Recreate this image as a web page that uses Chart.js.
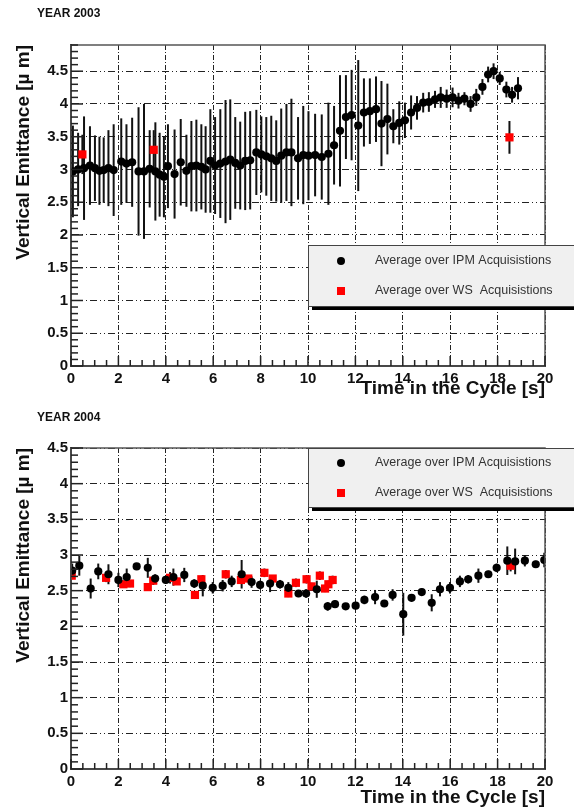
<!DOCTYPE html>
<html>
<head>
<meta charset="utf-8">
<script src="https://cdn.jsdelivr.net/npm/chart.js@4.4.0/dist/chart.umd.min.js"></script>
<style>
  body { margin: 0; background: #fff; }
  #wrap { position: relative; width: 574px; height: 809px; }
  canvas { position: absolute; left: 0; }
  #c2003 { top: 0; }
  #c2004 { top: 400px; }
</style>
</head>
<body>
<div id="wrap">
  <canvas id="c2003" width="574" height="400" style="width:574px;height:400px"></canvas>
  <canvas id="c2004" width="574" height="409" style="width:574px;height:409px"></canvas>
</div>
<script>
// ---- data ----
const ipmLabel = "Average over IPM Acquisistions";
const wsLabel = "Average over WS  Acquisistions";
const xLabel = "Time in the Cycle [s]";
const yLabel = "Vertical Emittance [\u00b5 m]";

// 2003 IPM
const ipm03Time = [0.08,0.30,0.55,0.80,1.01,1.20,1.38,1.58,1.80,2.12,2.34,2.58,2.85,3.08,3.32,3.56,3.74,3.92,4.09,4.37,
  4.63,4.87,5.08,5.29,5.50,5.68,5.88,6.08,6.30,6.52,6.72,6.93,7.14,7.35,7.56,7.82,8.03,8.24,8.45,8.66,
  8.87,9.09,9.30,9.58,9.80,10.02,10.30,10.58,10.86,11.10,11.35,11.60,11.84,12.12,12.36,12.61,12.87,13.10,13.35,13.60,
  13.85,14.09,14.35,14.60,14.86,15.10,15.36,15.60,15.85,16.10,16.35,16.60,16.86,17.10,17.36,17.60,17.83,18.09,18.37,18.61,18.86];
const ipm03Value = [2.97,3.00,3.02,3.06,3.02,2.98,2.99,3.02,2.99,3.12,3.09,3.11,2.97,2.97,3.01,2.97,2.92,2.89,3.05,2.93,
  3.11,2.98,3.05,3.06,3.04,3.00,3.13,3.06,3.09,3.12,3.15,3.10,3.06,3.13,3.14,3.26,3.23,3.20,3.17,3.13,
  3.21,3.26,3.26,3.17,3.22,3.21,3.22,3.19,3.24,3.37,3.59,3.80,3.83,3.67,3.87,3.89,3.92,3.70,3.77,3.66,
  3.71,3.75,3.87,3.94,4.02,4.03,4.07,4.10,4.08,4.10,4.05,4.08,4.00,4.10,4.26,4.45,4.50,4.39,4.22,4.14,4.24];
const ipm03Err = [0.70,0.56,0.79,0.60,0.50,0.52,0.50,0.58,0.70,0.66,0.60,0.68,0.98,1.03,0.59,0.75,0.64,0.62,0.64,0.68,
  0.66,0.55,0.69,0.70,0.65,0.66,0.79,0.74,0.83,0.94,0.92,0.70,0.67,0.75,0.75,0.65,0.58,0.60,0.65,0.62,
  0.72,0.74,0.82,0.63,0.75,0.68,0.63,0.65,0.78,0.60,0.85,0.64,0.69,1.00,0.52,0.50,0.50,0.65,0.54,0.26,
  0.33,0.27,0.26,0.18,0.15,0.15,0.13,0.16,0.14,0.15,0.12,0.10,0.12,0.13,0.12,0.12,0.12,0.10,0.12,0.12,0.17];

// 2003 WS
const ws03Time = [0.48, 3.49, 18.50];
const ws03Value = [3.23, 3.30, 3.49];
const ws03Err = [0.30, 0.30, 0.25];

// 2004 IPM
const ipm04Time = [0.05,0.35,0.83,1.15,1.58,2.00,2.35,2.77,3.24,3.55,4.00,4.32,4.78,5.20,5.56,5.98,6.40,6.78,7.20,7.62,
  7.98,8.40,8.82,9.17,9.60,9.92,10.37,10.83,11.14,11.59,12.01,12.38,12.83,13.22,13.57,14.02,14.37,14.80,15.22,15.57,
  15.99,16.41,16.76,17.19,17.61,17.96,18.41,18.74,19.15,19.61,19.97];
const ipm04Value = [2.78,2.85,2.53,2.77,2.73,2.65,2.69,2.84,2.82,2.67,2.65,2.69,2.72,2.60,2.57,2.54,2.57,2.63,2.73,2.62,
  2.58,2.60,2.59,2.54,2.46,2.46,2.52,2.28,2.31,2.28,2.29,2.37,2.41,2.32,2.44,2.17,2.40,2.48,2.33,2.52,
  2.54,2.63,2.66,2.71,2.73,2.82,2.92,2.91,2.92,2.87,2.93];
const ipm04Err = [0.10,0.14,0.14,0.11,0.14,0.10,0.12,0.04,0.14,0.06,0.05,0.12,0.10,0.06,0.15,0.08,0.08,0.08,0.20,0.08,
  0.06,0.12,0.06,0.08,0.05,0.06,0.12,0.06,0.05,0.04,0.05,0.06,0.10,0.05,0.08,0.30,0.05,0.05,0.12,0.10,
  0.08,0.08,0.06,0.10,0.05,0.06,0.20,0.18,0.08,0.05,0.10];

// 2004 WS
const ws04Time = [0.03,1.48,2.21,2.49,3.24,3.47,4.18,4.46,5.23,5.50,6.53,7.17,7.48,8.16,8.51,9.17,9.49,9.94,10.15,10.50,10.72,10.86,11.04,18.55];
const ws04Value = [2.71,2.68,2.59,2.60,2.55,2.64,2.68,2.63,2.44,2.66,2.73,2.65,2.67,2.75,2.67,2.46,2.61,2.66,2.56,2.71,2.53,2.59,2.65,2.85];
const ws04Err = [0.05,0.06,0.05,0.05,0.05,0.06,0.08,0.05,0.04,0.05,0.06,0.05,0.05,0.06,0.05,0.05,0.06,0.06,0.05,0.06,0.05,0.05,0.06,0.08];

const FONT = "'Liberation Sans', Arial, Helvetica, sans-serif";

function points(t, v, e) {
  return t.map((tt, i) => ({ x: tt, y: v[i], err: e[i] }));
}

// error bars, inside ticks, frame, year tag and legend box (ROOT look)
const rootPlugin = {
  id: "rootFrame",
  beforeDatasetsDraw(chart) {
    const { ctx, chartArea: a, scales: { x, y } } = chart;
    ctx.save();
    ctx.beginPath();
    ctx.rect(a.left, a.top, a.right - a.left, a.bottom - a.top);
    ctx.clip();
    ctx.strokeStyle = "#111";
    ctx.lineWidth = 2;
    chart.data.datasets.forEach((ds) => {
      ds.data.forEach((p) => {
        const px = x.getPixelForValue(p.x);
        ctx.beginPath();
        ctx.moveTo(px, y.getPixelForValue(p.y - p.err));
        ctx.lineTo(px, y.getPixelForValue(p.y + p.err));
        ctx.stroke();
      });
    });
    ctx.restore();
  },
  afterDraw(chart, args, opts) {
    const { ctx, chartArea: a, scales: { x, y } } = chart;
    ctx.save();
    // frame top/right
    ctx.strokeStyle = "#555";
    ctx.lineWidth = 1.5;
    ctx.strokeRect(a.left, a.top, a.right - a.left, a.bottom - a.top);

    // ticks pointing inside
    ctx.strokeStyle = "#222";
    ctx.lineWidth = 1.5;
    for (let i = 0; i <= 40; i++) {
      const px = x.getPixelForValue(i * 0.5);
      const len = i % 4 === 0 ? 10 : 6;
      ctx.beginPath();
      ctx.moveTo(px, a.bottom);
      ctx.lineTo(px, a.bottom - len);
      ctx.stroke();
    }
    for (let i = 0; i <= y.max * 10 + 0.001; i++) {
      const py = y.getPixelForValue(i / 10);
      const len = i % 5 === 0 ? 12 : 7;
      ctx.beginPath();
      ctx.moveTo(a.left, py);
      ctx.lineTo(a.left + len, py);
      ctx.stroke();
    }

    // year tag
    ctx.fillStyle = "#111";
    ctx.font = "bold 12px " + FONT;
    ctx.textBaseline = "middle";
    ctx.textAlign = "left";
    ctx.fillText(opts.year, 37, opts.yearY);

    // legend box with shadow
    const L = opts.legend;
    ctx.fillStyle = "#000";
    ctx.fillRect(L.x + 4, L.y + L.h, 600, 4);
    ctx.fillStyle = "#f0f0f0";
    ctx.fillRect(L.x, L.y, 600, L.h);
    ctx.strokeStyle = "#444";
    ctx.lineWidth = 1;
    ctx.strokeRect(L.x + 0.5, L.y + 0.5, 600, L.h);
    ctx.font = "12.5px " + FONT;
    chart.data.datasets.forEach((ds, i) => {
      const cy = L.y + L.first + i * 30;
      const cx = L.x + 33;
      ctx.fillStyle = ds.backgroundColor;
      if (ds.pointStyle === "rect") {
        ctx.fillRect(cx - 4, cy - 4, 8, 8);
      } else {
        ctx.beginPath();
        ctx.arc(cx, cy, 4, 0, Math.PI * 2);
        ctx.fill();
      }
      ctx.fillStyle = "#333";
      ctx.fillText(ds.label, L.x + 67, cy);
    });
    ctx.restore();
  }
};

function makeChart(id, ipm, ws, yMax, top, xHeight, year, yearY, legend) {
  return new Chart(document.getElementById(id), {
    type: "scatter",
    data: {
      datasets: [
        { label: ipmLabel, data: ipm, backgroundColor: "#000", borderColor: "#000",
          pointStyle: "circle", pointRadius: 4.1, pointHoverRadius: 4.1, borderWidth: 0 },
        { label: wsLabel, data: ws, backgroundColor: "#ff0000", borderColor: "#ff0000",
          pointStyle: "rect", pointRadius: 5.8, pointHoverRadius: 5.8, borderWidth: 0 }
      ]
    },
    options: {
      responsive: false,
      animation: false,
      layout: { padding: { top: top, right: 29, left: 0, bottom: 0 } },
      plugins: {
        legend: { display: false },
        tooltip: { enabled: false },
        rootFrame: { year: year, yearY: yearY, legend: legend }
      },
      scales: {
        x: {
          type: "linear", min: 0, max: 20,
          afterFit: (s) => { s.height = xHeight; },
          ticks: { stepSize: 2, autoSkip: false, maxRotation: 0, padding: 4, color: "#111",
                   font: { family: FONT, size: 15, weight: "bold" } },
          grid: { color: "#222", lineWidth: 1, drawTicks: false },
          border: { display: true, color: "#222", width: 2, dash: [5, 2, 1, 2] },
          title: { display: true, text: xLabel, align: "end", color: "#111",
                   padding: { top: 0, bottom: 0 }, font: { family: FONT, size: 19, weight: "bold" } }
        },
        y: {
          type: "linear", min: 0, max: yMax,
          afterFit: (s) => { s.width = 71; },
          ticks: { stepSize: 0.5, includeBounds: false, padding: 3, color: "#111",
                   callback: (v) => String(Math.round(v * 10) / 10),
                   font: { family: FONT, size: 15, weight: "bold" } },
          grid: { color: "#222", lineWidth: 1, drawTicks: false },
          border: { display: true, color: "#222", width: 2, dash: [7, 3, 1, 3, 1, 3] },
          title: { display: true, text: yLabel, align: "end", color: "#111",
                   padding: { top: 12, bottom: 0 }, font: { family: FONT, size: 19, weight: "bold" } }
        }
      }
    },
    plugins: [rootPlugin]
  });
}

makeChart("c2003",
  points(ipm03Time, ipm03Value, ipm03Err),
  points(ws03Time, ws03Value, ws03Err),
  4.9, 45, 34, "YEAR 2003", 14,
  { x: 308, y: 245, h: 61, first: 16 });

makeChart("c2004",
  points(ipm04Time, ipm04Value, ipm04Err),
  points(ws04Time, ws04Value, ws04Err),
  4.5, 48, 40, "YEAR 2004", 18,
  { x: 308, y: 48, h: 59, first: 15 });
</script>
</body>
</html>
